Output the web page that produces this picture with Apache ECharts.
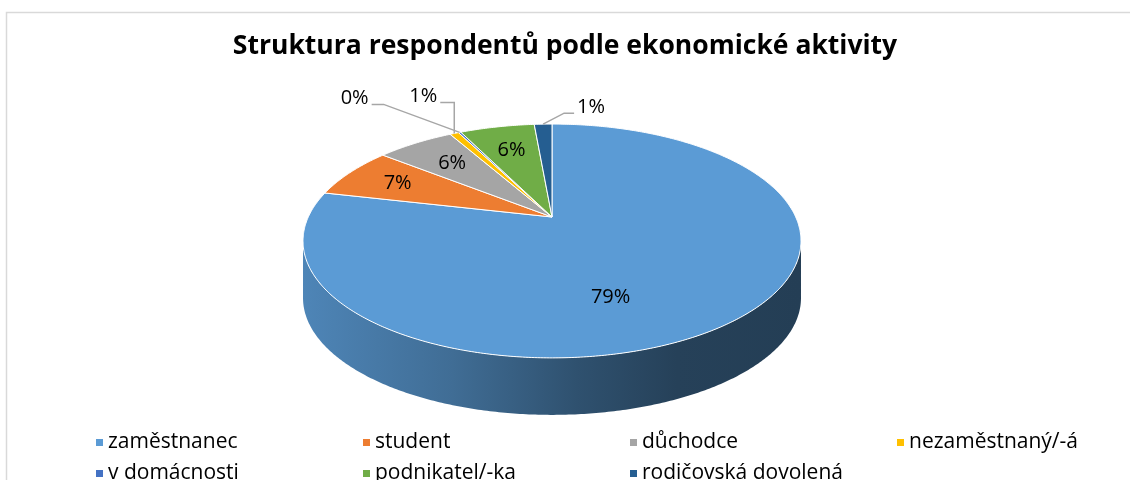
<!DOCTYPE html>
<html><head><meta charset="utf-8">
<script src="https://cdn.jsdelivr.net/npm/echarts@6/dist/echarts.min.js"></script>
<style>html,body{margin:0;padding:0;background:#fff}#c{width:1130px;height:480px}</style>
</head><body><div id="c"></div>
<script>
// ---- data ----
const categories = ['zaměstnanec', 'student', 'důchodce', 'nezaměstnaný/-á', 'v domácnosti', 'podnikatel/-ka', 'rodičovská dovolená'];
const shares = [78.6, 7.1, 6.1, 0.7, 0.2, 5.9, 1.4];
const chartTitle = 'Struktura respondentů podle ekonomické aktivity';

// ---- style ----
const colors = ['#5B9BD5', '#ED7D31', '#A5A5A5', '#FFC000', '#4472C4', '#70AD47', '#255E91'];
const geo = { cx: 552, cy: 217, sx: 243.7, sy: 112, p: -0.205, depth: 57 };
const labelPlacement = [
  { r: 0.66, turn: 20 },
  { r: 0.75, turn: 0 },
  { r: 0.70, turn: 0 },
  { leader: [0, -31, -14] },
  { leader: [-76, -28, -12] },
  { r: 0.70, turn: 0 },
  { leader: [21, -11, 10] }
];
const FONT = '"Open Sans", "Liberation Sans", sans-serif';

const total = shares.reduce((a, b) => a + b, 0);
const starts = [];
let acc = 0;
shares.forEach(v => { starts.push(acc / total * Math.PI * 2); acc += v; });

function proj(r, phi, dy) {
  const u = r * Math.sin(phi), v = -r * Math.cos(phi);
  const w = 1 + geo.p * v;
  return [geo.cx + geo.sx * u / w, geo.cy + geo.sy * v / w + (dy || 0)];
}
function arcPts(a0, a1, dy) {
  const n = Math.max(2, Math.ceil(Math.abs(a1 - a0) / 0.01));
  const pts = [];
  for (let k = 0; k <= n; k++) pts.push(proj(1, a0 + (a1 - a0) * k / n, dy));
  return pts;
}
function shade(hex, f) {
  const n = parseInt(hex.slice(1), 16);
  const r = Math.round(((n >> 16) & 255) * f), g = Math.round(((n >> 8) & 255) * f), b = Math.round((n & 255) * f);
  return 'rgb(' + r + ',' + g + ',' + b + ')';
}
const phiR = Math.acos(geo.p), phiL = 2 * Math.PI - phiR;
const xL = proj(1, phiL)[0], xR = proj(1, phiR)[0];

function makeRender(i) {
  return function (params, api) {
    const val = api.value(0);
    const a0 = starts[i];
    const a1 = a0 + val / total * Math.PI * 2;
    const col = api.visual('color');
    const children = [];
    // side wall (front part only)
    const s = Math.max(a0, phiR), e = Math.min(a1, phiL);
    if (e > s) {
      const top = arcPts(s, e, 0);
      const bot = arcPts(s, e, geo.depth).reverse();
      children.push({
        type: 'polygon', z2: 1,
        shape: { points: top.concat(bot) },
        style: {
          fill: new echarts.graphic.LinearGradient(xL, 0, xR, 0, [
            { offset: 0, color: shade(col, 0.86) },
            { offset: 0.3, color: shade(col, 0.70) },
            { offset: 0.55, color: shade(col, 0.52) },
            { offset: 0.75, color: shade(col, 0.42) },
            { offset: 1, color: shade(col, 0.40) }
          ], true),
          stroke: null
        }
      });
    }
    // top face
    const pts = [[geo.cx, geo.cy]].concat(arcPts(a0, a1, 0));
    children.push({
      type: 'polygon', z2: 10,
      shape: { points: pts },
      style: { fill: col, stroke: '#ffffff', lineWidth: 1 }
    });
    // label
    const lp = labelPlacement[i];
    const txt = Math.round(val / total * 100) + '%';
    const mid = (a0 + a1) / 2;
    if (lp.leader) {
      const anc = proj(1, mid, 0);
      const elb = [anc[0] + lp.leader[0], anc[1] + lp.leader[1]];
      const end = [elb[0] + lp.leader[2], elb[1]];
      children.push({
        type: 'polyline', z2: 20,
        shape: { points: [anc, elb, end] },
        style: { stroke: '#a6a6a6', lineWidth: 1.5, fill: null }
      });
      const left = lp.leader[2] < 0;
      children.push({
        type: 'text', z2: 21,
        style: {
          text: txt, x: end[0] + (left ? -3 : 3), y: end[1] - 6,
          align: left ? 'right' : 'left', verticalAlign: 'middle',
          fill: '#000', font: '20px ' + FONT
        }
      });
    } else {
      const pos = proj(lp.r, mid + lp.turn * Math.PI / 180, 0);
      children.push({
        type: 'text', z2: 21,
        style: {
          text: txt, x: pos[0], y: pos[1], align: 'center', verticalAlign: 'middle',
          fill: '#000', font: '20px ' + FONT
        }
      });
    }
    return { type: 'group', children: children };
  };
}

const chart = echarts.init(document.getElementById('c'), null, { renderer: 'canvas' });
chart.setOption({
  animation: false,
  color: colors,
  title: {
    text: chartTitle, left: 'center', top: 28,
    textStyle: { fontFamily: FONT, fontWeight: 'bold', fontSize: 26.5, color: '#000' }
  },
  graphic: [{
    type: 'rect', z: -10,
    shape: { x: 6.5, y: 12.5, width: 1300, height: 700 },
    style: { fill: null, stroke: '#d9d9d9', lineWidth: 1.5 }
  }],
  legend: {
    data: categories,
    left: 96, top: 432, width: 1060, padding: 0,
    icon: 'rect', itemWidth: 7, itemHeight: 7, itemGap: 10, itemTextGap: 5,
    selectedMode: false,
    textStyle: { fontFamily: FONT, fontSize: 21, color: '#000', width: 245, lineHeight: 16 }
  },
  series: categories.map((name, i) => ({
    type: 'custom', name: name, coordinateSystem: 'none',
    itemStyle: { color: colors[i] },
    renderItem: makeRender(i),
    data: [[shares[i]]]
  }))
});
</script>
</body></html>
